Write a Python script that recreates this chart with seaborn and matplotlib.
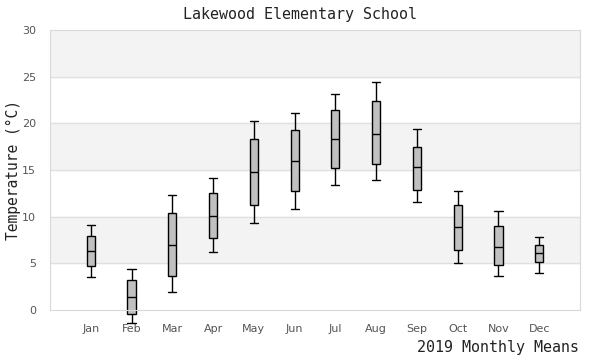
import pandas as pd
import seaborn as sns
import matplotlib.pyplot as plt

# Monthly temperature summaries (deg C)
months = ['Jan', 'Feb', 'Mar', 'Apr', 'May', 'Jun', 'Jul', 'Aug', 'Sep', 'Oct', 'Nov', 'Dec']
low = [3.5, -1.4, 1.9, 6.2, 9.3, 10.8, 13.4, 13.9, 11.6, 5.0, 3.6, 4.0]
q1 = [4.7, -0.45, 3.6, 7.7, 11.2, 12.8, 15.2, 15.6, 12.9, 6.4, 4.8, 5.1]
median = [6.3, 1.4, 7.0, 10.1, 14.8, 16.0, 18.3, 18.9, 15.3, 8.9, 6.8, 6.1]
q3 = [7.9, 3.2, 10.4, 12.5, 18.3, 19.3, 21.4, 22.4, 17.5, 11.3, 9.0, 7.0]
high = [9.1, 4.4, 12.3, 14.1, 20.2, 21.1, 23.1, 24.4, 19.4, 12.8, 10.6, 7.8]

# Five values per month: with whiskers at 0-100% the boxplot reproduces the stats exactly
rows = []
for i, m in enumerate(months):
    for v in (low[i], q1[i], median[i], q3[i], high[i]):
        rows.append({'month': m, 'temp': v})
df = pd.DataFrame(rows)

sns.set_style('white')
mono = 'DejaVu Sans Mono'

fig = plt.figure(figsize=(6, 3.6), dpi=100)
ax = fig.add_axes([0.0833, 0.1389, 0.8834, 0.7778])

sns.boxplot(data=df, x='month', y='temp', order=months, whis=(0, 100),
            width=0.2, color='#c0c0c0', saturation=1, linecolor='black',
            linewidth=1.0, ax=ax, zorder=2)

# caps as wide as the boxes, and let Feb's whisker hang below zero
for line in ax.lines:
    line.set_clip_on(False)
    xd = line.get_xdata()
    yd = line.get_ydata()
    if len(xd) == 2 and xd[0] != xd[1] and yd[0] == yd[1]:
        c = (xd[0] + xd[1]) / 2
        line.set_xdata([c - 0.1, c + 0.1])
for p in ax.patches:
    p.set_clip_on(False)

# alternating background bands + grid
for lo_band in (5, 15, 25):
    ax.axhspan(lo_band, lo_band + 5, color='#f3f3f3', zorder=0)
for y in range(5, 30, 5):
    ax.axhline(y, color='#e0e0e0', linewidth=1, zorder=0.5)

ax.set_ylim(0, 30)
ax.set_xlim(-1, 12)
ax.set_yticks(range(0, 31, 5))

for s in ax.spines.values():
    s.set_visible(True)
    s.set_color('#d9d9d9')
ax.tick_params(length=0, labelsize=8, labelcolor='#555555')
ax.tick_params(axis='x', pad=10)
ax.tick_params(axis='y', pad=10)

fig.text(0.5, 0.96, 'Lakewood Elementary School', family=mono, fontsize=10.8,
         color='#222222', ha='center', va='center')
ax.set_ylabel('Temperature (°C)', family=mono, fontsize=10.5, color='#222222')
ax.yaxis.set_label_coords(-0.054, 0.5)
ax.set_xlabel('')
fig.text(0.965, 0.035, '2019 Monthly Means', family=mono, fontsize=10.8,
         color='#222222', ha='right', va='center')

fig.savefig('out.png', dpi=100)
